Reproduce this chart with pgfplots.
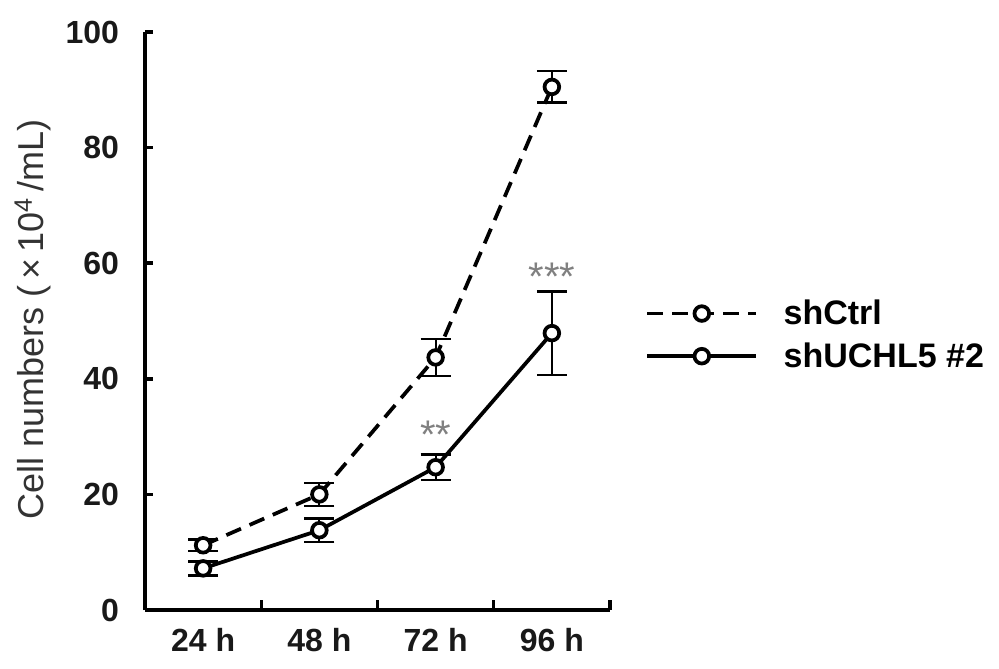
\documentclass[border=0pt]{standalone}
\usepackage{fontspec}
\setmainfont{Liberation Sans}
\usepackage{pgfplots}
\pgfplotsset{compat=1.18}
\begin{document}
\begin{tikzpicture}
\useasboundingbox (0,0) rectangle (749.25pt,501pt);
\begin{axis}[
  at={(108.75pt,43.5pt)}, anchor=south west,
  scale only axis, width=348.75pt, height=433.5pt,
  xmin=-0.5, xmax=3.5, ymin=0, ymax=100,
  clip=false,
  axis x line*=bottom, axis y line*=left,
  axis line style={line width=2.6pt, black},
  xtick={0,1,2,3}, xticklabels={24 h,48 h,72 h,96 h},
  major x tick style={draw=none},
  minor xtick={-0.5,0.5,1.5,2.5,3.5},
  ytick={0,20,40,60,80,100},
  tick align=inside,
  tick style={line width=2.6pt, black},
  major tick length=6pt, minor tick length=7.5pt,
  /pgf/number format/assume math mode=true,
  ticklabel style={font=\fontsize{24}{28}\selectfont\bfseries, text=black!90},
  yticklabel style={xshift=-16pt},
  xticklabel style={yshift=-10pt},
  ylabel={Cell numbers (\,×\,10\textsuperscript{4}\,/mL)},
  ylabel style={at={(axis description cs:-0.241,0.502)}, anchor=center, font=\fontsize{27}{32}\selectfont, text=black!80},
  legend style={at={(1.0667,0.476)}, anchor=west, draw=none, fill=none,
    font=\fontsize{25.5}{30}\selectfont\bfseries, row sep=8pt,
    /tikz/every odd column/.append style={column sep=17pt}},
  legend cell align=left,
  legend image code/.code={\draw[mark repeat=2,mark phase=2,#1] plot coordinates {(0pt,0pt) (41pt,0pt) (82pt,0pt)};},
]
\addplot[black, line width=2.8pt, dash pattern=on 12pt off 7pt,
  mark=*, mark size=5.5pt, mark options={solid, fill=white, draw=black, line width=2.8pt},
  error bars/.cd, y dir=both, y explicit,
  error mark=|,
  error bar style={line width=1.6pt, solid},
  error mark options={line width=1.8pt, mark size=11.25pt, solid}]
  table[x=x, y=y, y error=e] {
x y e
0 11.2 1.0
1 20.0 2.0
2 43.7 3.2
3 90.5 2.7
};
\addlegendentry{shCtrl}
\addplot[black, line width=2.8pt, solid,
  mark=*, mark size=5.5pt, mark options={solid, fill=white, draw=black, line width=2.8pt},
  error bars/.cd, y dir=both, y explicit,
  error mark=|,
  error bar style={line width=1.6pt, solid},
  error mark options={line width=1.8pt, mark size=11.25pt, solid}]
  table[x=x, y=y, y error=e] {
x y e
0 7.2 1.2
1 13.8 2.0
2 24.7 2.2
3 47.9 7.2
};
\addlegendentry{shUCHL5 \#2}
\node[anchor=base, text=black!50, font=\fontsize{30}{30}\selectfont] at (axis cs:2,28) {**};
\node[anchor=base, text=black!50, font=\fontsize{30}{30}\selectfont] at (axis cs:3,55.3) {***};
\end{axis}
\end{tikzpicture}
\end{document}
